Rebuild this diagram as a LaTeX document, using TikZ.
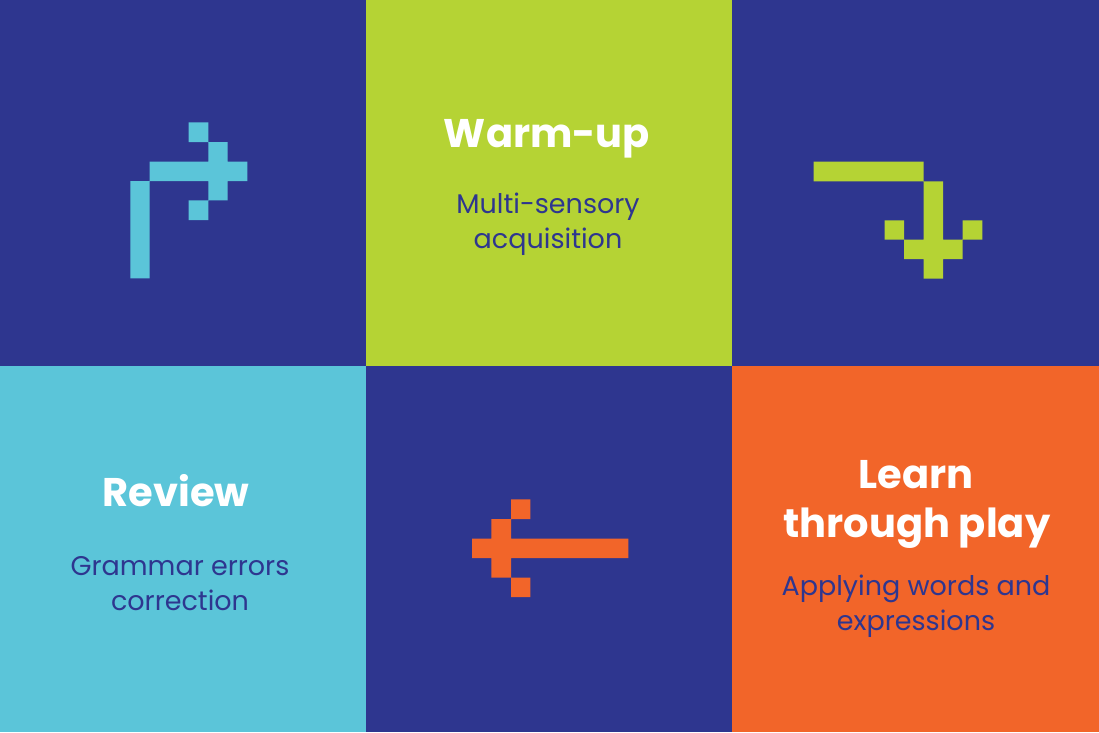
\documentclass[tikz,border=0pt]{standalone}
\usepackage{fontspec}
\setmainfont{Poppins}
\definecolor{navy}{HTML}{2E368F}
\definecolor{lime}{HTML}{B5D334}
\definecolor{sky}{HTML}{5BC5D9}
\definecolor{tang}{HTML}{F26529}
\begin{document}
\begin{tikzpicture}[x=1pt,y=-1pt,
  title/.style={anchor=base,inner sep=0pt,text=white,font=\fontsize{40}{48}\selectfont\bfseries},
  sub/.style={anchor=base,inner sep=0pt,text=navy,font=\fontsize{27}{35}\selectfont}]
\useasboundingbox (0,0) rectangle (1099,732);
% cells
\fill[navy] (0,0) rectangle (1099,732);
\fill[lime] (366,0) rectangle (732,366);
\fill[sky] (0,366) rectangle (366,732);
\fill[tang] (732,366) rectangle (1099,732);
% cyan pixel arrow
\fill[sky] (188.7,122.3) rectangle (208.3,142)
           (208.3,142) rectangle (227.7,161.7)
           (149.7,161.7) rectangle (247.3,181)
           (208.3,181) rectangle (227.7,200.3)
           (188.7,200.3) rectangle (208.3,220)
           (130.3,181) rectangle (149.7,278.3);
% green pixel arrow
\fill[lime] (813.7,161.7) rectangle (923.7,181.3)
            (923.7,181.3) rectangle (943,240)
            (884.7,220.3) rectangle (904,239.7)
            (962.7,220.3) rectangle (982.3,239.7)
            (904,239.7) rectangle (962.7,259)
            (923.7,259) rectangle (943,278.7);
% orange pixel arrow
\fill[tang] (511,499.3) rectangle (530.3,519)
            (491.3,519) rectangle (511,538.7)
            (472,538.7) rectangle (628.3,558)
            (491.3,558) rectangle (511,577.7)
            (511,577.7) rectangle (530.3,597);
% texts
\node[title] (warm) at (547,147) {Warm-up};
\node[sub] (warm1) at (548,213) {Multi-sensory};
\node[sub] (warm2) at (548,248) {acquisition};
\node[title] (rev) at (176,506) {Review};
\node[sub] (rev1) at (180,575) {Grammar errors};
\node[sub] (rev2) at (180,610) {correction};
\node[title] (learn1) at (916,488) {Learn};
\node[title] (learn2) at (917,537) {through play};
\node[sub] (app1) at (916,595) {Applying words and};
\node[sub] (app2) at (916,630) {expressions};
\end{tikzpicture}
\end{document}
